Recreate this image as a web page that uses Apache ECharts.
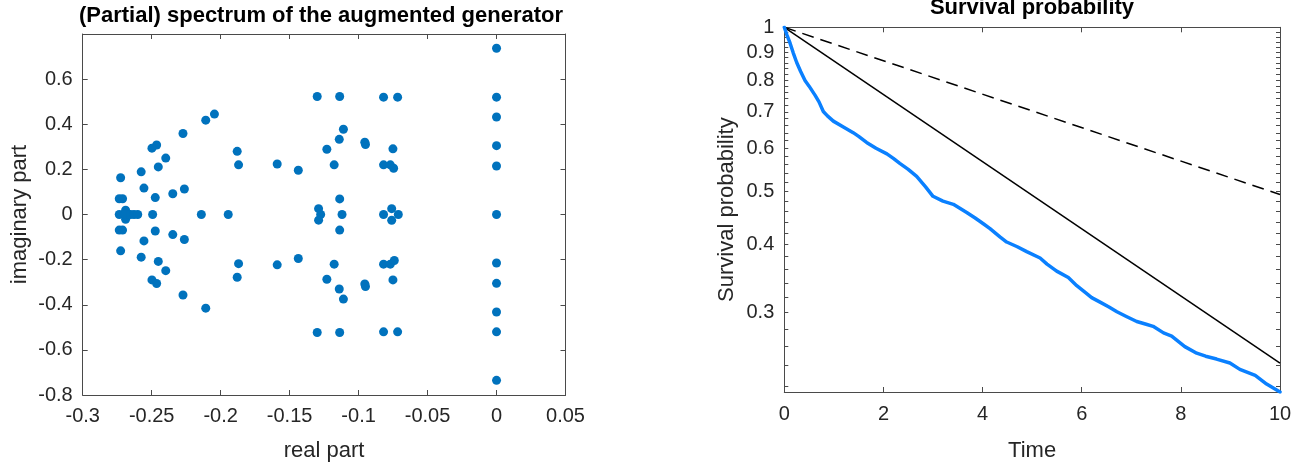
<!DOCTYPE html>
<html>
<head>
<meta charset="utf-8">
<script src="https://cdn.jsdelivr.net/npm/echarts@6/dist/echarts.min.js"></script>
<style>
  html, body { margin: 0; padding: 0; background: #fff; }
  #chart { width: 1307px; height: 467px; }
</style>
</head>
<body>
<div id="chart"></div>
<script>
// Eigenvalues of the augmented generator (real and imaginary parts, paired by index)
const realPart = [
  0, 0, 0, 0, 0, 0, 0, 0, 0, 0, 0,
  -0.0717, -0.0819, -0.0717, -0.0819,
  -0.0751, -0.0751,
  -0.0819, -0.077, -0.0746, -0.0819, -0.077, -0.0741,
  -0.0819, -0.0712, -0.076, -0.076,
  -0.0955, -0.095, -0.0955, -0.095,
  -0.1137, -0.1137, -0.111, -0.114, -0.114, -0.111,
  -0.1177, -0.1177, -0.1137, -0.1137, -0.112,
  -0.130, -0.130, -0.123, -0.123, -0.129, -0.1275, -0.129,
  -0.1437, -0.1437, -0.159, -0.159,
  -0.188, -0.187, -0.187, -0.188,
  -0.1945, -0.214,
  -0.2045, -0.2108, -0.2108,
  -0.2273, -0.2273, -0.2263, -0.2263, -0.2347, -0.2347,
  -0.2398, -0.2398, -0.2452, -0.2452,
  -0.2464, -0.2498, -0.2498, -0.2464,
  -0.2474, -0.2474, -0.2493,
  -0.2556, -0.2556, -0.2576, -0.2576,
  -0.2725, -0.2725,
  -0.2735, -0.2711, -0.2735, -0.2711,
  -0.2689, -0.2689,
  -0.2735, -0.2689, -0.2653, -0.2628, -0.2601
];
const imagPart = [
  0.737, 0.52, 0.432, 0.305, 0.215, 0, -0.215, -0.305, -0.432, -0.52, -0.735,
  0.52, 0.52, -0.52, -0.52,
  0.291, -0.29,
  0.22, 0.22, 0.205, -0.22, -0.22, -0.204,
  0, 0, 0.026, -0.026,
  0.32, 0.31, -0.308, -0.319,
  0.523, -0.523, 0.378, 0.333, -0.33, -0.375,
  0.22, -0.22, 0.069, -0.069, 0,
  0.523, -0.523, 0.289, -0.287, 0.026, 0.0, -0.025,
  0.196, -0.195, 0.224, -0.223,
  0.28, 0.22, -0.218, -0.278,
  0, 0,
  0.445, 0.418, -0.415,
  0.359, -0.357, 0.113, -0.111, 0.092, -0.089,
  0.25, -0.249, 0.211, -0.208,
  0.308, 0.294, -0.29, -0.306,
  0.075, -0.073, 0,
  0.117, -0.117, 0.189, -0.189,
  0.163, -0.161,
  0.07, 0.07, -0.069, -0.069,
  0.019, -0.021,
  0, 0, 0, 0, 0
];

// Empirical survival curve
const survTime = [
  0, 0.05, 0.115, 0.18, 0.25, 0.33, 0.418, 0.5, 0.619, 0.7, 0.787, 0.87, 0.989,
  1.2, 1.39, 1.5, 1.66, 1.85, 2.07, 2.2, 2.33, 2.5, 2.67, 2.85, 3.0, 3.2, 3.41,
  3.68, 3.85, 4.015, 4.15, 4.35, 4.486, 4.7, 4.89, 5.16, 5.3, 5.495, 5.73, 5.9,
  6.07, 6.2, 6.37, 6.55, 6.71, 6.9, 7.11, 7.3, 7.44, 7.65, 7.815, 8.08, 8.32,
  8.5, 8.72, 8.99, 9.19, 9.5, 9.73, 10
];
const survProb = [
  1, 0.97, 0.936, 0.898, 0.862, 0.83, 0.799, 0.78, 0.751, 0.73, 0.701, 0.688, 0.673,
  0.656, 0.641, 0.631, 0.615, 0.6, 0.586, 0.575, 0.563, 0.549, 0.533, 0.51, 0.49, 0.48, 0.4737,
  0.4576, 0.447, 0.4364, 0.4275, 0.413, 0.404, 0.396, 0.388, 0.3776, 0.368, 0.3573, 0.3477, 0.336,
  0.3267, 0.3195, 0.3135, 0.307, 0.301, 0.295, 0.2888, 0.2855, 0.283, 0.2753, 0.2716, 0.2598, 0.2527,
  0.2495, 0.2465, 0.2424, 0.236, 0.230, 0.2218, 0.2145
];

// Exponential reference decays (straight on the log axis)
const modelTime = [0, 10];
const solidProb = [1, 0.2424];
const dashedProb = [1, 0.4937];

// Log-axis ticks of the survival panel
const probTickLabels = [0.3, 0.4, 0.5, 0.6, 0.7, 0.8, 0.9, 1];
const probTicks = [
  0.22, 0.24, 0.26, 0.28, 0.30, 0.32, 0.34, 0.36, 0.38, 0.40,
  0.42, 0.44, 0.46, 0.48, 0.50, 0.52, 0.54, 0.56, 0.58, 0.60,
  0.62, 0.64, 0.66, 0.68, 0.70, 0.72, 0.74, 0.76, 0.78, 0.80,
  0.82, 0.84, 0.86, 0.88, 0.90, 0.92, 0.94, 0.96, 0.98, 1.00
];
const probMin = 0.2145;
const probMax = 1;

const FONT = "'Liberation Sans', Arial, Helvetica, sans-serif";
const TXT = '#262626';
const AXIS = '#4a4a4a';

const lg = v => Math.log10(v);
const pairs = (xs, ys, f) => xs.map((x, i) => [x, f ? f(ys[i]) : ys[i]]);

const axisLineStyle = { show: true, onZero: false, lineStyle: { color: AXIS, width: 1 } };
const tickStyle = { show: true, inside: true, length: 5, lineStyle: { color: AXIS, width: 1 } };
const labelStyle = { color: TXT, fontFamily: FONT, fontSize: 20 };
const nameStyle = { color: TXT, fontFamily: FONT, fontSize: 22 };

const chart = echarts.init(document.getElementById('chart'), null, { renderer: 'canvas' });

chart.setOption({
  animation: false,
  backgroundColor: '#ffffff',
  title: [
    {
      text: '(Partial) spectrum of the augmented generator',
      left: 321, top: 5, textAlign: 'center', padding: 0,
      textStyle: { color: '#000', fontFamily: FONT, fontSize: 22, fontWeight: 'bold' }
    },
    {
      text: 'Survival probability',
      left: 1032, top: -3, textAlign: 'center', padding: 0,
      textStyle: { color: '#000', fontFamily: FONT, fontSize: 22, fontWeight: 'bold' }
    }
  ],
  grid: [
    { left: 82.7, top: 34, width: 482.8, height: 364, containLabel: false },
    { left: 784.3, top: 27.3, width: 495.7, height: 373, containLabel: false }
  ],
  xAxis: [
    {
      type: 'value', gridIndex: 0, position: 'bottom',
      min: -0.3, max: 0.05, interval: 0.05,
      name: 'real part', nameLocation: 'middle', nameGap: 45, nameTextStyle: nameStyle,
      axisLine: axisLineStyle, axisTick: tickStyle,
      axisLabel: Object.assign({ margin: 11 }, labelStyle),
      splitLine: { show: false }
    },
    {
      type: 'value', gridIndex: 0, position: 'top',
      min: -0.3, max: 0.05, interval: 0.05,
      axisLine: axisLineStyle, axisTick: tickStyle,
      axisLabel: { show: false }, splitLine: { show: false }
    },
    {
      type: 'value', gridIndex: 1, position: 'bottom',
      min: 0, max: 10, interval: 2,
      name: 'Time', nameLocation: 'middle', nameGap: 48, nameTextStyle: nameStyle,
      axisLine: axisLineStyle, axisTick: tickStyle,
      axisLabel: Object.assign({ margin: 12 }, labelStyle),
      splitLine: { show: false }
    },
    {
      type: 'value', gridIndex: 1, position: 'top',
      min: 0, max: 10, interval: 2,
      axisLine: axisLineStyle, axisTick: tickStyle,
      axisLabel: { show: false }, splitLine: { show: false }
    }
  ],
  yAxis: [
    {
      type: 'value', gridIndex: 0, position: 'left',
      min: -0.8, max: 0.8, interval: 0.2,
      name: 'imaginary part', nameLocation: 'middle', nameGap: 52, nameTextStyle: nameStyle,
      axisLine: axisLineStyle, axisTick: tickStyle,
      axisLabel: Object.assign({ margin: 10, showMaxLabel: false }, labelStyle),
      splitLine: { show: false }
    },
    {
      type: 'value', gridIndex: 0, position: 'right',
      min: -0.8, max: 0.8, interval: 0.2,
      axisLine: axisLineStyle, axisTick: tickStyle,
      axisLabel: { show: false }, splitLine: { show: false }
    },
    {
      type: 'value', gridIndex: 1, position: 'left',
      min: lg(probMin), max: lg(probMax),
      name: 'Survival probability', nameLocation: 'middle', nameGap: 46, nameTextStyle: nameStyle,
      axisLine: axisLineStyle,
      axisTick: Object.assign({}, tickStyle, { length: 4, customValues: probTicks.map(lg) }),
      axisLabel: Object.assign({
        margin: 10,
        customValues: probTickLabels.map(lg),
        formatter: v => String(parseFloat(Math.pow(10, v).toFixed(2)))
      }, labelStyle),
      splitLine: { show: false }
    },
    {
      type: 'value', gridIndex: 1, position: 'right',
      min: lg(probMin), max: lg(probMax),
      axisLine: axisLineStyle,
      axisTick: Object.assign({}, tickStyle, { length: 4, customValues: probTicks.map(lg) }),
      axisLabel: { show: false }, splitLine: { show: false }
    }
  ],
  series: [
    {
      type: 'scatter', xAxisIndex: 0, yAxisIndex: 0,
      symbol: 'circle', symbolSize: 9,
      itemStyle: { color: '#0072BD', opacity: 1 },
      data: pairs(realPart, imagPart)
    },
    {
      type: 'line', xAxisIndex: 2, yAxisIndex: 2,
      showSymbol: false, symbol: 'none',
      lineStyle: { color: '#000000', width: 1.5, type: [12, 7] },
      data: pairs(modelTime, dashedProb, lg)
    },
    {
      type: 'line', xAxisIndex: 2, yAxisIndex: 2,
      showSymbol: false, symbol: 'none',
      lineStyle: { color: '#000000', width: 1.5 },
      data: pairs(modelTime, solidProb, lg)
    },
    {
      type: 'line', xAxisIndex: 2, yAxisIndex: 2,
      showSymbol: false, symbol: 'none',
      lineStyle: { color: '#0a80ff', width: 3.5, join: 'round', cap: 'round' },
      data: pairs(survTime, survProb, lg)
    }
  ]
});
</script>
</body>
</html>
